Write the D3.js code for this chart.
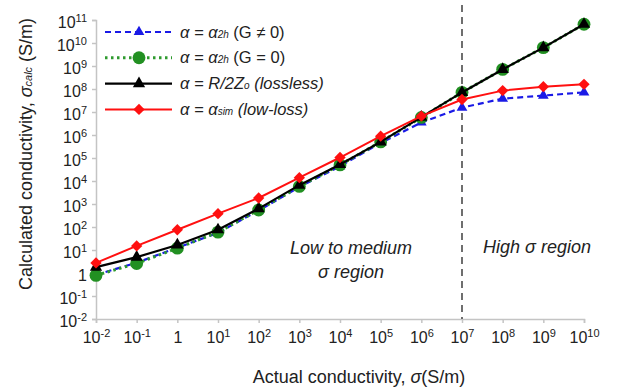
<!DOCTYPE html>
<html>
<head>
<meta charset="utf-8">
<script src="https://cdn.jsdelivr.net/npm/d3@7"></script>
<style>
  body { margin: 0; background: #fff; }
  text { font-family: "Liberation Sans", Arial, sans-serif; fill: #222; }
</style>
</head>
<body>
<svg id="chart" width="619" height="392"></svg>
<script>
// actual conductivity (S/m)
const sigma = [1e-2, 1e-1, 1, 1e1, 1e2, 1e3, 1e4, 1e5, 1e6, 1e7, 1e8, 1e9, 1e10];
// calculated conductivity, one array per series (S/m)
const alpha2hG = [0.83, 2.8, 12.6, 56, 525, 5.5e3, 4.4e4, 4.5e5, 3.5e6, 1.55e7, 3.8e7, 5.2e7, 7.1e7];
const alpha2h0 = [0.79, 2.6, 12, 60, 550, 5.8e3, 5.0e4, 5.0e5, 5.8e6, 7.1e7, 7.1e8, 6.3e9, 6.5e10];
const lossless = [1.8, 4.9, 16.6, 76, 630, 6.6e3, 5.2e4, 5.0e5, 6.0e6, 7.1e7, 7.1e8, 6.3e9, 6.5e10];
const lowLoss = [2.75, 15, 76, 380, 1820, 1.4e4, 1.05e5, 8.9e5, 6.6e6, 3.5e7, 8.5e7, 1.26e8, 1.6e8];

const xTickVals = sigma;
const yTickVals = [1e-2, 1e-1, 1, 1e1, 1e2, 1e3, 1e4, 1e5, 1e6, 1e7, 1e8, 1e9, 1e10, 1e11];
const boundary = 1e7;

const svg = d3.select('#chart');

const x = d3.scaleLog().domain([1e-2, 1e10]).range([96, 584]);
const y = d3.scaleLog().domain([1e-2, 1e11]).range([319, 20]);

const axisColor = '#c4c4c4';

// power-of-ten label with superscript
function powLabel(sel, v) {
  const e = Math.round(Math.log10(v));
  if (e === 0) { sel.text('1'); return; }
  sel.append('tspan').text('10');
  sel.append('tspan').attr('font-size', 11).attr('dy', -6).text(e < 0 ? '-' + (-e) : e);
}

// y axis
const yAxis = svg.append('g').attr('transform', 'translate(' + x.range()[0] + ',0)')
  .call(d3.axisLeft(y).tickValues(yTickVals).tickSize(4).tickFormat(''));
yAxis.select('.domain').attr('stroke', axisColor).attr('stroke-width', 1.5);
yAxis.selectAll('.tick line').attr('stroke', axisColor).attr('stroke-width', 1.5);
yAxis.selectAll('.tick').append('text')
  .attr('x', -9).attr('dy', '0.45em')
  .attr('text-anchor', 'end').attr('font-size', 16).attr('fill', '#222')
  .each(function(d) { powLabel(d3.select(this), d); });

// x axis
const xAxis = svg.append('g').attr('transform', 'translate(0,' + y.range()[0] + ')')
  .call(d3.axisBottom(x).tickValues(xTickVals).tickSize(4).tickFormat(''));
xAxis.select('.domain').attr('stroke', axisColor).attr('stroke-width', 1.5);
xAxis.selectAll('.tick line').attr('stroke', axisColor).attr('stroke-width', 1.5);
xAxis.selectAll('.tick').append('text')
  .attr('y', 24)
  .attr('text-anchor', 'middle').attr('font-size', 16).attr('fill', '#222')
  .each(function(d) { powLabel(d3.select(this), d); });

// region divider
svg.append('line')
  .attr('x1', x(boundary)).attr('x2', x(boundary))
  .attr('y1', 5).attr('y2', y.range()[0])
  .attr('stroke', '#222').attr('stroke-width', 1.3).attr('stroke-dasharray', '7,5');

// series
const series = [
  { name: 'g', vals: alpha2hG, color: '#1a1ae6', dash: '6,4', width: 2.2, marker: 'triangle', size: 50 },
  { name: 'g0', vals: alpha2h0, color: '#2e9a2e', dash: '2.5,3.5', width: 3, marker: 'circle', size: 130 },
  { name: 'll', vals: lossless, color: '#000', dash: null, width: 2.2, marker: 'triangle', size: 65 },
  { name: 'sim', vals: lowLoss, color: '#ff1010', dash: null, width: 2, marker: 'diamond', size: 64 }
];
const markerFill = { g: '#1a1ae6', g0: '#229022', ll: '#000', sim: '#ff1010' };
const symbols = { triangle: d3.symbolTriangle, circle: d3.symbolCircle, diamond: d3.symbolSquare };
const rot = s => s.marker === 'diamond' ? ' rotate(45)' : '';

const line = d3.line().x(d => x(d[0])).y(d => y(d[1]));

series.forEach(s => {
  const pts = sigma.map((v, i) => [v, s.vals[i]]);
  svg.append('path').datum(pts)
    .attr('d', line).attr('fill', 'none')
    .attr('stroke', s.color).attr('stroke-width', s.width)
    .attr('stroke-dasharray', s.dash);
  svg.selectAll(null).data(pts).enter().append('path')
    .attr('transform', d => 'translate(' + x(d[0]) + ',' + y(d[1]) + ')' + rot(s))
    .attr('d', d3.symbol().type(symbols[s.marker]).size(s.size))
    .attr('fill', markerFill[s.name]);
});

// legend
const legend = svg.append('g');
const legendRows = [
  { s: series[0], parts: [['α = α', 'i'], ['2h', 'sub'], [' (G ≠ 0)', '']] },
  { s: series[1], parts: [['α = α', 'i'], ['2h', 'sub'], [' (G = 0)', '']] },
  { s: series[2], parts: [['α = R/2Z', 'i'], ['o', 'sub'], [' (lossless)', 'i']] },
  { s: series[3], parts: [['α = α', 'i'], ['sim', 'sub'], [' (low-loss)', 'i']] }
];
legendRows.forEach((r, i) => {
  const ly = 32 + i * 25.8;
  legend.append('line')
    .attr('x1', 105).attr('x2', 172).attr('y1', ly).attr('y2', ly)
    .attr('stroke', r.s.color).attr('stroke-width', r.s.width)
    .attr('stroke-dasharray', r.s.dash);
  legend.append('path')
    .attr('transform', 'translate(139,' + ly + ')' + rot(r.s))
    .attr('d', d3.symbol().type(symbols[r.s.marker]).size(r.s.size))
    .attr('fill', markerFill[r.s.name]);
  const t = legend.append('text').attr('x', 180).attr('y', ly + 5.5).attr('font-size', 16.5);
  r.parts.forEach(p => {
    const ts = t.append('tspan').text(p[0]);
    if (p[1] === 'i') ts.attr('font-style', 'italic');
    if (p[1] === 'sub') ts.attr('font-size', 10).attr('font-style', 'italic');
  });
});

// region annotations
const note = svg.append('g').attr('font-size', 18).attr('font-style', 'italic');
note.append('text').attr('x', 351).attr('y', 254).attr('text-anchor', 'middle').text('Low to medium');
note.append('text').attr('x', 351).attr('y', 278).attr('text-anchor', 'middle').text('σ region');
note.append('text').attr('x', 537).attr('y', 253).attr('text-anchor', 'middle').text('High σ region');

// axis titles
const xt = svg.append('text').attr('x', 359).attr('y', 383).attr('text-anchor', 'middle').attr('font-size', 18);
xt.append('tspan').text('Actual conductivity, ');
xt.append('tspan').attr('font-style', 'italic').text('σ');
xt.append('tspan').text('(S/m)');

const yt = svg.append('text').attr('transform', 'translate(32,154) rotate(-90)')
  .attr('text-anchor', 'middle').attr('font-size', 18);
yt.append('tspan').text('Calculated conductivity, ');
yt.append('tspan').attr('font-style', 'italic').text('σ');
yt.append('tspan').attr('font-style', 'italic').attr('font-size', 11).text('calc');
yt.append('tspan').text(' (S/m)');
</script>
</body>
</html>
